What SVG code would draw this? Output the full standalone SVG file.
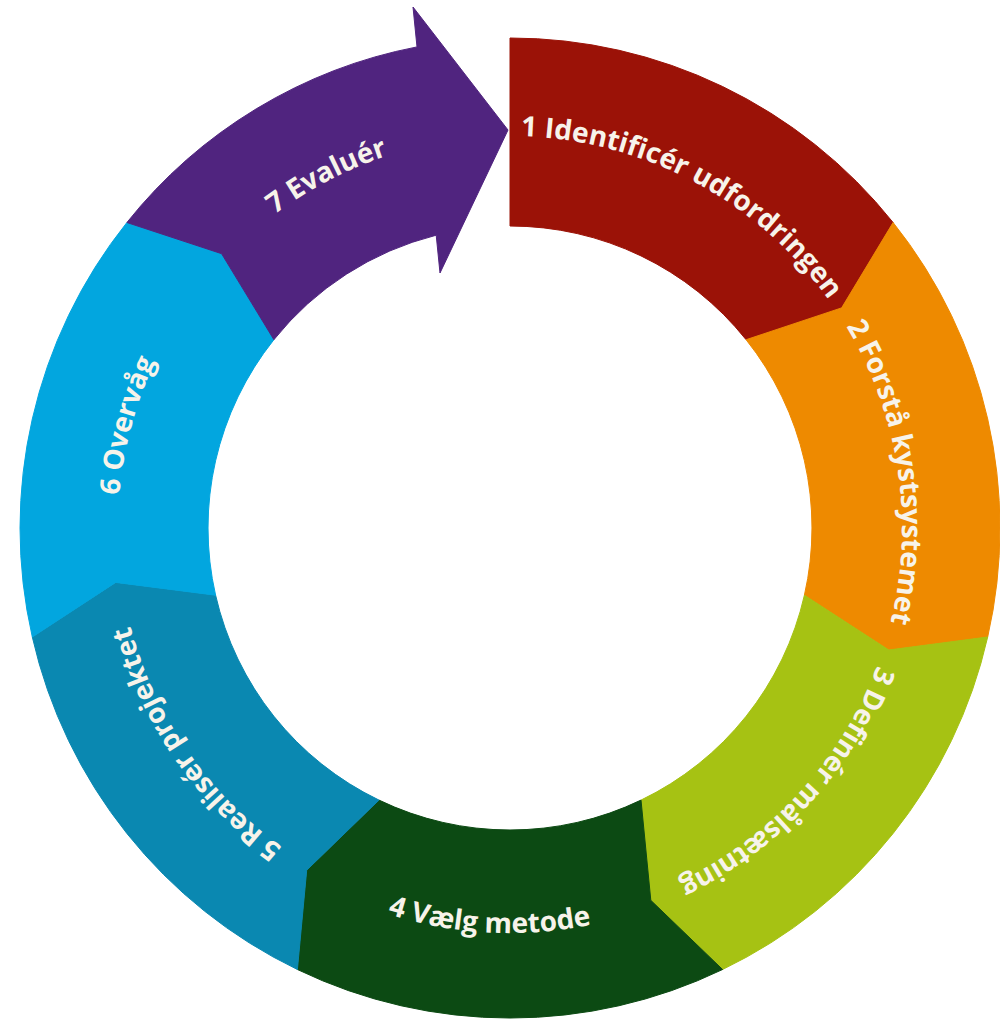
<svg xmlns="http://www.w3.org/2000/svg" xmlns:xlink="http://www.w3.org/1999/xlink" width="1000" height="1020" viewBox="0 0 1000 1020">
  <style>
    .seg { stroke-width: 1; stroke-linejoin: round; }
    .lbl { font-family: "Open Sans", "Noto Sans", "DejaVu Sans", sans-serif; font-weight: 700; font-size: 28px; fill: #f7f3ea; }
  </style>
  <defs>
    <path id="tp1" d="M 302.27,195.57 A 392 392 0 0 1 901.76,514.32"/>
    <path id="tp2" d="M 653.67,163.28 A 392 392 0 0 1 754.03,834.78"/>
    <path id="tp3" d="M 883.86,410.12 A 392 392 0 0 1 425.16,910.71"/>
    <path id="tp4" d="M 149.14,711.87 A 405 405 0 0 0 849.66,748.58"/>
    <path id="tp5" d="M 540.76,918.79 A 392 392 0 0 1 156.19,359.24"/>
    <path id="tp6" d="M 232.81,805.19 A 392 392 0 0 1 408.54,149.36"/>
    <path id="tp7" d="M 118.37,510.90 A 392 392 0 0 1 720.62,197.39"/>
  </defs>
  <rect width="1000" height="1020" fill="#ffffff"/>

  <g id="step1">
    <path class="seg" fill="#9b1207" stroke="#9b1207" d="M 510,38 A 490 490 0 0 1 893.1,222.5 L 841.6,307.9 L 746.1,339.7 A 302 302 0 0 0 510,226 Z"/>
    <text class="lbl"><textPath href="#tp1" xlink:href="#tp1" startOffset="50%" text-anchor="middle">1 Identificér udfordringen</textPath></text>
  </g>

  <g id="step2">
    <path class="seg" fill="#ee8a00" stroke="#ee8a00" d="M 893.1,222.5 A 490 490 0 0 1 987.7,637.0 L 888.8,650.0 L 804.4,595.2 A 302 302 0 0 0 746.1,339.7 L 841.6,307.9 Z"/>
    <text class="lbl"><textPath href="#tp2" xlink:href="#tp2" startOffset="50%" text-anchor="middle">2 Forstå kystsystemet</textPath></text>
  </g>

  <g id="step3">
    <path class="seg" fill="#a6c213" stroke="#a6c213" d="M 987.7,637.0 A 490 490 0 0 1 722.6,969.5 L 650.8,900.3 L 641.0,800.1 A 302 302 0 0 0 804.4,595.2 L 888.8,650.0 Z"/>
    <text class="lbl"><textPath href="#tp3" xlink:href="#tp3" startOffset="50%" text-anchor="middle">3 Definér målsætning</textPath></text>
  </g>

  <g id="step4">
    <path class="seg" fill="#0c4a13" stroke="#0c4a13" d="M 722.6,969.5 A 490 490 0 0 1 297.4,969.5 L 306.7,870.2 L 379.0,800.1 A 302 302 0 0 0 641.0,800.1 L 650.8,900.3 Z"/>
    <text class="lbl"><textPath href="#tp4" xlink:href="#tp4" startOffset="50%" text-anchor="middle">4 Vælg metode</textPath></text>
  </g>

  <g id="step5">
    <path class="seg" fill="#0a88b1" stroke="#0a88b1" d="M 297.4,969.5 A 490 490 0 0 1 32.3,637.0 L 115.7,582.4 L 215.6,595.2 A 302 302 0 0 0 379.0,800.1 L 306.7,870.2 Z"/>
    <text class="lbl"><textPath href="#tp5" xlink:href="#tp5" startOffset="50%" text-anchor="middle">5 Realisér projektet</textPath></text>
  </g>

  <g id="step6">
    <path class="seg" fill="#02a6df" stroke="#02a6df" d="M 32.3,637.0 A 490 490 0 0 1 126.9,222.5 L 221.6,253.7 L 273.9,339.7 A 302 302 0 0 0 215.6,595.2 L 115.7,582.4 Z"/>
    <text class="lbl"><textPath href="#tp6" xlink:href="#tp6" startOffset="50%" text-anchor="middle">6 Overvåg</textPath></text>
  </g>

  <g id="step7">
    <path class="seg" fill="#50247f" stroke="#50247f" d="M 126.9,222.5 A 490 490 0 0 1 417.0,46.9 L 413,7 L 508,130 L 440,273 L 436.2,235.2 A 302 302 0 0 0 273.9,339.7 L 221.6,253.7 Z"/>
    <text class="lbl"><textPath href="#tp7" xlink:href="#tp7" startOffset="50%" text-anchor="middle">7 Evaluér</textPath></text>
  </g>

  <g id="connectors"></g>
</svg>
